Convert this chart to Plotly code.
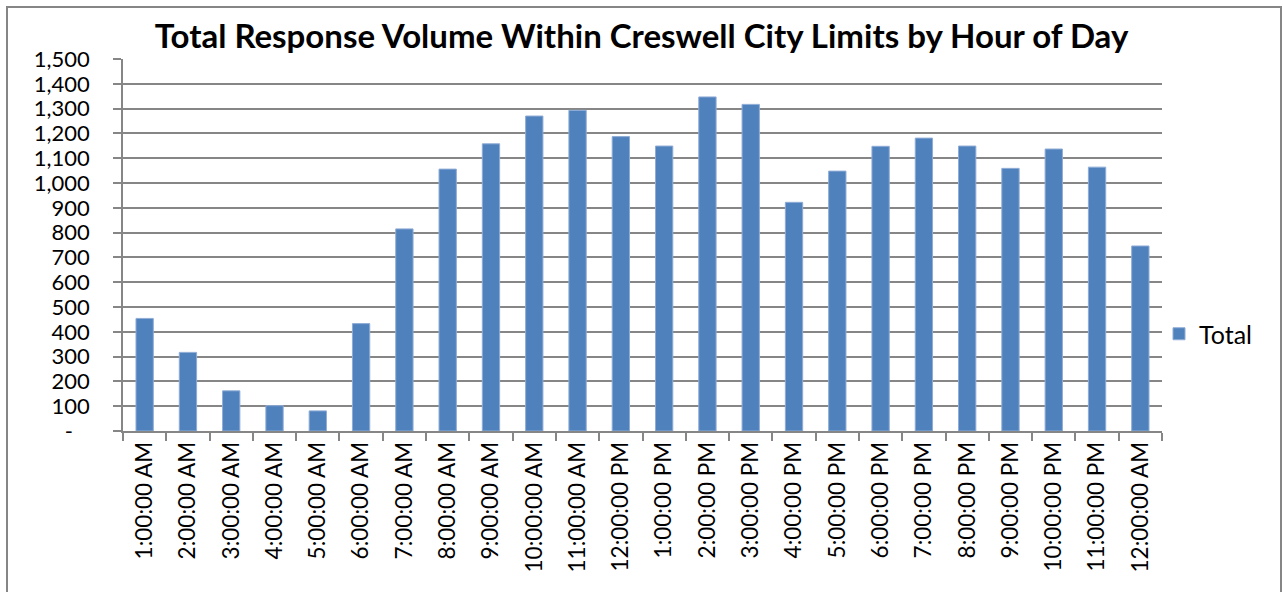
import plotly.graph_objects as go

# Hour-of-day categories and response totals
hours = [
    "1:00:00 AM", "2:00:00 AM", "3:00:00 AM", "4:00:00 AM", "5:00:00 AM", "6:00:00 AM",
    "7:00:00 AM", "8:00:00 AM", "9:00:00 AM", "10:00:00 AM", "11:00:00 AM", "12:00:00 PM",
    "1:00:00 PM", "2:00:00 PM", "3:00:00 PM", "4:00:00 PM", "5:00:00 PM", "6:00:00 PM",
    "7:00:00 PM", "8:00:00 PM", "9:00:00 PM", "10:00:00 PM", "11:00:00 PM", "12:00:00 AM",
]
totals = [
    454, 317, 162, 102, 81, 433,
    815, 1056, 1158, 1270, 1293, 1187,
    1149, 1347, 1317, 922, 1048, 1148,
    1181, 1149, 1059, 1137, 1064, 746,
]

y_ticks = list(range(0, 1600, 100))
y_tick_text = ["-\u00a0\u00a0\u00a0"] + [f"{v:,}" for v in y_ticks[1:]]

FONT = "Lato"
GRAY = "#868686"

fig = go.Figure(
    go.Bar(
        x=hours,
        y=totals,
        name="Total",
        marker=dict(color="#4F81BD", line=dict(color="#8FACD6", width=1)),
        showlegend=True,
    )
)

W, H = 1283, 592
ML, MR, MT, MB = 123, 121, 59, 161
pw = W - ML - MR
ph = H - MT - MB

fig.update_layout(
    width=W,
    height=H,
    margin=dict(l=ML, r=MR, t=MT, b=MB, pad=0),
    paper_bgcolor="white",
    plot_bgcolor="white",
    bargap=0.6,
    font=dict(family=FONT, color="black", size=20),
    title=dict(
        text="<b>Total Response Volume Within Creswell City Limits by Hour of Day</b>",
        x=0.5,
        xanchor="center",
        y=1 - 36 / H,
        yanchor="middle",
        font=dict(family=FONT, size=33, color="black"),
    ),
    legend=dict(
        x=(1159 - ML) / pw,
        xanchor="left",
        y=(H - MB - 334) / ph,
        yanchor="middle",
        font=dict(family=FONT, size=25, color="black"),
        itemwidth=30,
        bgcolor="rgba(0,0,0,0)",
    ),
    xaxis=dict(
        type="category",
        range=[-0.5, len(hours) - 0.5],
        tickangle=-90,
        tickson="boundaries",
        ticks="outside",
        ticklen=8,
        tickwidth=1.5,
        tickcolor=GRAY,
        showline=True,
        linecolor=GRAY,
        linewidth=1.5,
        showgrid=False,
        tickfont=dict(family=FONT, size=22.5, color="black"),
    ),
    yaxis=dict(
        range=[0, 1500],
        tickvals=y_ticks,
        ticktext=y_tick_text,
        ticks="outside",
        ticklen=8,
        tickwidth=1.5,
        tickcolor=GRAY,
        showline=True,
        linecolor=GRAY,
        linewidth=1.5,
        showgrid=True,
        gridcolor=GRAY,
        gridwidth=1.5,
        zeroline=False,
        ticklabelstandoff=19,
        tickfont=dict(family=FONT, size=22, color="black"),
    ),
    shapes=[
        dict(
            type="rect",
            xref="paper",
            yref="paper",
            x0=(7 - ML) / pw,
            x1=(1281 - ML) / pw,
            y0=(H - MB - 620) / ph,
            y1=(H - MB - 7) / ph,
            line=dict(color=GRAY, width=2),
            fillcolor="rgba(0,0,0,0)",
            layer="below",
        )
    ],
)

fig.write_html("out.html")
